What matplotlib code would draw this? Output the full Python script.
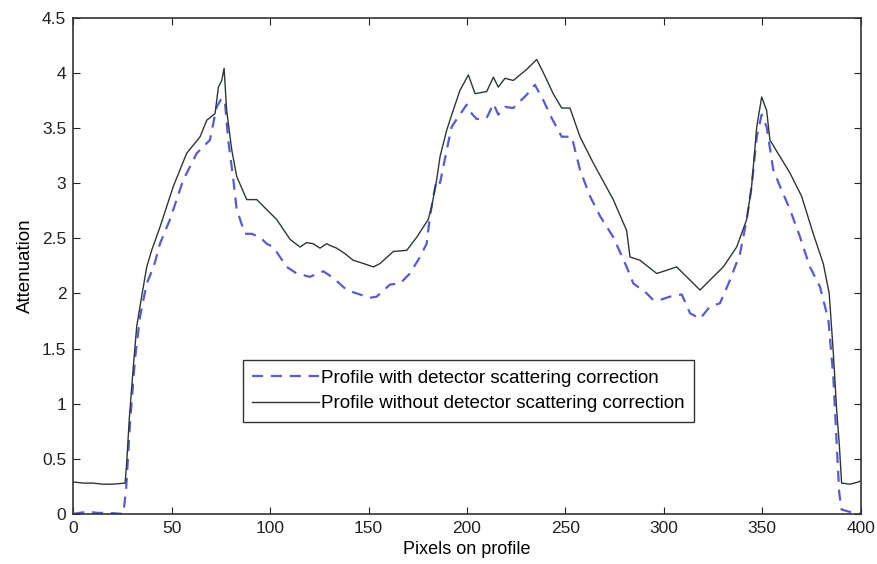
import numpy as np
import matplotlib
matplotlib.use('Agg')
import matplotlib.pyplot as plt

# Profile without detector scattering correction (solid line)
x_sin = [0, 5, 10, 15, 20, 26.3, 27.1, 28.5, 30.5, 32.2, 34.7, 37.3, 39.8, 44.0,
         50.8, 57.6, 64.4, 67.8, 72.0, 73.7, 75.4, 76.6, 77.9, 80.5, 83.0, 88.1,
         93.2, 98.2, 103.3, 110.1, 115.2, 118.5, 121.9, 125.3, 128.7, 131.0, 133.8,
         138.0, 142.2, 147.5, 152.4, 155.8, 162.6, 169.4, 174.5, 180.3, 182.1,
         184.6, 186.3, 189.7, 193.0, 196.4, 200.7, 204.1, 210.0, 213.4, 215.9,
         219.3, 223.5, 230.3, 235.4, 238.8, 243.8, 248.1, 252.3, 257.4, 264.2,
         274.3, 281.1, 282.8, 287.9, 296.4, 301.5, 306.5, 311.6, 318.4, 323.4,
         330.2, 337.0, 342.1, 344.6, 347.2, 349.7, 352.2, 353.9, 359.0, 364.1,
         370.0, 375.9, 381.0, 384.0, 386.1, 387.8, 389.1, 390.3, 394.6, 398.8, 400]
y_sin = [0.29, 0.28, 0.28, 0.27, 0.27, 0.28, 0.46, 0.88, 1.34, 1.70, 1.97, 2.24, 2.39,
         2.60, 2.97, 3.27, 3.42, 3.57, 3.63, 3.87, 3.93, 4.04, 3.66, 3.30, 3.06, 2.85,
         2.85, 2.76, 2.67, 2.49, 2.42, 2.46, 2.45, 2.41, 2.45, 2.43, 2.41, 2.36, 2.30,
         2.27, 2.24, 2.27, 2.38, 2.39, 2.51, 2.67, 2.79, 3.03, 3.24, 3.48, 3.66, 3.84,
         3.98, 3.81, 3.83, 3.96, 3.87, 3.95, 3.93, 4.03, 4.12, 4.00, 3.81, 3.68, 3.68,
         3.42, 3.18, 2.85, 2.57, 2.33, 2.30, 2.18, 2.21, 2.24, 2.15, 2.03, 2.12, 2.24,
         2.42, 2.67, 2.97, 3.51, 3.78, 3.66, 3.39, 3.24, 3.09, 2.88, 2.54, 2.27, 2.00,
         1.46, 0.94, 0.64, 0.28, 0.27, 0.29, 0.30]

# Profile with detector scattering correction (dashed line)
x_con = [0, 3, 8, 12, 18, 25.4, 26.8, 28.8, 31.3, 33.9, 37.3, 41.0, 44.0, 49.1,
         55.9, 62.7, 69.4, 71.1, 72.8, 75.4, 77.1, 78.7, 81.3, 83.0, 87.2, 90.6,
         94.8, 98.2, 101.6, 108.4, 113.5, 120.2, 127.0, 132.1, 138.9, 145.6, 150.7,
         154.1, 160.9, 166.0, 171.0, 176.1, 179.5, 181.2, 182.9, 184.6, 186.3,
         189.7, 192.2, 195.6, 199.8, 202.4, 204.9, 210.0, 213.4, 215.9, 219.3,
         223.5, 230.3, 234.5, 238.8, 243.0, 248.1, 253.2, 257.4, 262.5, 267.6,
         274.3, 281.1, 284.5, 291.3, 294.6, 298.0, 303.1, 309.1, 313.3, 318.4,
         323.4, 328.5, 333.6, 338.7, 342.1, 344.6, 347.2, 349.7, 352.2, 355.6,
         359.0, 364.1, 369.2, 374.2, 379.3, 383.6, 386.1, 387.8, 389.1, 390.3,
         396.2, 400]
y_con = [0.00, 0.01, 0.02, 0.01, 0.01, 0.00, 0.22, 0.82, 1.40, 1.79, 2.09, 2.25, 2.45,
         2.67, 3.03, 3.27, 3.39, 3.54, 3.69, 3.77, 3.72, 3.39, 3.03, 2.76, 2.54, 2.54,
         2.51, 2.45, 2.42, 2.24, 2.18, 2.15, 2.20, 2.14, 2.03, 1.99, 1.96, 1.97, 2.08,
         2.09, 2.18, 2.33, 2.45, 2.70, 2.88, 3.03, 3.00, 3.30, 3.51, 3.60, 3.71, 3.63,
         3.58, 3.59, 3.72, 3.62, 3.69, 3.68, 3.80, 3.89, 3.75, 3.59, 3.42, 3.42, 3.12,
         2.88, 2.70, 2.51, 2.24, 2.09, 2.00, 1.94, 1.94, 1.97, 1.99, 1.82, 1.77, 1.88,
         1.91, 2.12, 2.36, 2.67, 2.97, 3.42, 3.62, 3.51, 3.12, 2.97, 2.76, 2.51, 2.24,
         2.06, 1.76, 1.24, 0.64, 0.19, 0.04, 0.01, 0.00]

etiquetas = ['Profile with detector scattering correction',
             'Profile without detector scattering correction']

plt.rcParams['font.family'] = ['Liberation Sans', 'DejaVu Sans']

fig = plt.figure(figsize=(8.77, 5.64), dpi=100)
ax = fig.add_axes([0.0836, 0.0887, 0.8978, 0.8801])

ax.plot(x_con, y_con, '--', color='#5a5ad2', lw=1.6, dashes=(5, 3.5), label=etiquetas[0])
ax.plot(x_sin, y_sin, '-', color='#2e3833', lw=1.0, label=etiquetas[1])

ax.set_xlim(0, 400)
ax.set_ylim(0, 4.5)
ax.set_xticks(np.arange(0, 401, 50))
ax.set_yticks(np.arange(0, 4.51, 0.5))
ax.set_yticklabels(['0', '0.5', '1', '1.5', '2', '2.5', '3', '3.5', '4', '4.5'])
ax.tick_params(direction='in', top=True, right=True, length=5, labelsize=12.5,
               colors='#222222', pad=5)
for s in ax.spines.values():
    s.set_color('#333333')
    s.set_linewidth(1.2)

ax.set_xlabel('Pixels on profile', fontsize=13, labelpad=4)
ax.set_ylabel('Attenuation', fontsize=13.5, labelpad=6)

leg = ax.legend(loc='upper left', bbox_to_anchor=(0.215, 0.31), fontsize=13.5,
                handlelength=3.6, handletextpad=0.1, borderpad=0.5, labelspacing=0.45,
                fancybox=False, framealpha=1, edgecolor='#333333', borderaxespad=0)
leg.get_frame().set_linewidth(1.0)

fig.savefig('out.png', dpi=100)
